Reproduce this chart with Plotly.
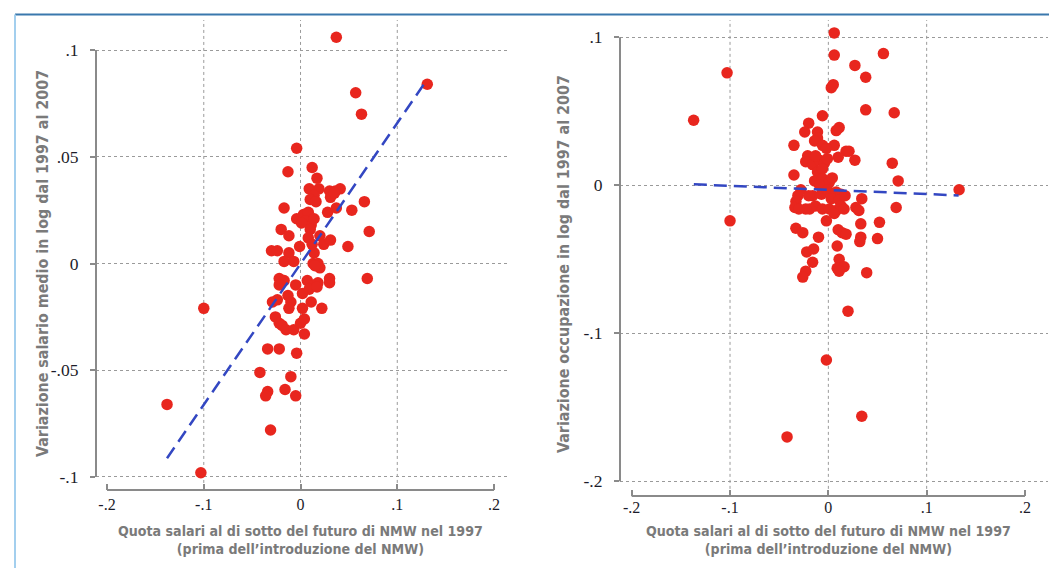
import plotly.graph_objects as go

# ---------------- data: left panel (wages) ----------------
wage_x = [0.037, 0.131, 0.057, 0.063, -0.004, -0.013, 0.012, 0.017,
          0.009, 0.019, 0.030, 0.036, 0.041, 0.014, 0.031, 0.035, 0.010, 0.016, 0.066,
          -0.017, 0.037, 0.053, 0.028,
          -0.004, 0.003, 0.008, 0.005, 0.011, 0.014, 0.001, 0.010, 0.071, -0.020,
          -0.012, 0.008, 0.012, 0.020, 0.024, 0.031, -0.001, 0.049, -0.030, -0.024,
          -0.012, 0.014,
          -0.017, -0.007, 0.013, 0.018, 0.020, 0.015, 0.069, 0.030, 0.030, -0.022,
          -0.017, -0.022, 0.007, 0.014, 0.018, 0.009, 0.017, -0.005, 0.002, -0.013,
          -0.010, -0.012, -0.029, -0.024, 0.011, 0.002, 0.022, -0.100, -0.026, -0.022,
          -0.019, -0.015, -0.007, 0.000, 0.004, 0.004, -0.034, -0.022, -0.004, -0.042,
          -0.010, -0.034, -0.036, -0.016, -0.005, -0.138, -0.031, -0.103]
wage_y = [0.106, 0.084, 0.080, 0.070, 0.054, 0.043, 0.045, 0.040,
          0.035, 0.035, 0.034, 0.034, 0.035, 0.032, 0.031, 0.033, 0.030, 0.029, 0.029,
          0.026, 0.026, 0.025, 0.024,
          0.021, 0.023, 0.024, 0.020, 0.018, 0.021, 0.019, 0.016, 0.015, 0.016,
          0.013, 0.012, 0.009, 0.013, 0.009, 0.011, 0.008, 0.008, 0.006, 0.006,
          0.005, 0.005,
          0.001, 0.001, 0.000, -0.000, -0.002, -0.001, -0.007, -0.007, -0.009, -0.007,
          -0.008, -0.010, -0.008, -0.010, -0.009, -0.012, -0.011, -0.010, -0.014, -0.015,
          -0.018, -0.021, -0.018, -0.017, -0.018, -0.021, -0.021, -0.021, -0.025, -0.028,
          -0.029, -0.031, -0.031, -0.028, -0.026, -0.033, -0.040, -0.040, -0.042, -0.051,
          -0.053, -0.060, -0.062, -0.059, -0.062, -0.066, -0.078, -0.098]
wage_fit_x = [-0.138, 0.1295]
wage_fit_y = [-0.0912, 0.0853]

# ---------------- data: right panel (employment) ----------------
emp_x = [0.006, 0.006, 0.056, 0.027, -0.103, 0.038, 0.003, 0.005, 0.038, 0.067,
         -0.137, -0.006, -0.020, -0.024, -0.011, -0.011, -0.014, 0.011, 0.008, -0.035,
         -0.006, 0.006, -0.002, 0.018, 0.021, -0.021, 0.010, 0.027, 0.065, -0.023,
         -0.016, -0.009, -0.004, -0.011, -0.006, -0.001, -0.013, -0.035, 0.071, -0.014,
         -0.006, 0.001, -0.009, 0.133, -0.028, -0.031, -0.033, -0.034, -0.016, -0.007,
         -0.001, 0.008, 0.013, 0.003, 0.011, -0.013, -0.019, -0.023, -0.006, 0.001,
         0.008, 0.013, 0.006, 0.034, 0.028, 0.031, 0.069, -0.100, -0.002, 0.033,
         0.052, -0.033, -0.026, 0.010, 0.014, 0.018, -0.010, 0.033, 0.032, 0.050,
         0.009, -0.022, -0.015, -0.016, 0.011, 0.009, 0.016, 0.011, 0.039, -0.023,
         -0.026, 0.020, -0.002, 0.034, -0.042, -0.030, 0.017, 0.016, -0.020, 0.004]
emp_y = [0.103, 0.088, 0.089, 0.081, 0.076, 0.073, 0.066, 0.068, 0.051, 0.049,
         0.044, 0.047, 0.042, 0.036, 0.036, 0.032, 0.030, 0.039, 0.037, 0.027,
         0.027, 0.027, 0.025, 0.023, 0.023, 0.020, 0.019, 0.017, 0.015, 0.016,
         0.014, 0.017, 0.015, 0.009, 0.011, 0.018, 0.020, 0.007, 0.003, 0.003,
         0.0045, 0.002, 0.000, -0.003, -0.003, -0.007, -0.011, -0.015, -0.007, -0.006,
         -0.003, -0.0045, -0.006, -0.009, -0.010, -0.014, -0.016, -0.016, -0.016, -0.016,
         -0.017, -0.014, -0.019, -0.009, -0.015, -0.017, -0.015, -0.024, -0.024, -0.026,
         -0.025, -0.029, -0.032, -0.030, -0.032, -0.033, -0.035, -0.035, -0.038, -0.036,
         -0.041, -0.045, -0.043, -0.052, -0.050, -0.056, -0.055, -0.058, -0.059, -0.058,
         -0.062, -0.085, -0.118, -0.156, -0.170, -0.016, -0.007, -0.016, -0.007, 0.005]
emp_fit_x = [-0.1368, 0.1325]
emp_fit_y = [0.0007, -0.0068]

# ---------------- tick labels ----------------
x_ticks = [-0.2, -0.1, 0, 0.1, 0.2]
x_ticktext = ["-.2", "-.1", "0", ".1", ".2"]
x_grid = [-0.1, 0, 0.1]
wage_yticks = [-0.1, -0.05, 0, 0.05, 0.1]
wage_yticktext = ["-.1", "-.05", "0", ".05", ".1"]
emp_yticks = [-0.2, -0.1, 0, 0.1]
emp_yticktext = ["-.2", "-.1", "0", ".1"]

x_title = "Quota salari al di sotto del futuro di NMW nel 1997<br>(prima dell\u2019introduzione del NMW)"
wage_ytitle = "Variazione salario medio in log dal 1997 al 2007"
emp_ytitle = "Variazione occupazione in log dal 1997 al 2007"

# ---------------- styles ----------------
W, H = 1057, 568
RED = "#e8261e"
BLUE = "#3347c2"
AXIS = "#8a8a8a"
GRID = "#9a9a9a"
TICKFONT = dict(family="Liberation Serif", size=17.5, color="#1c1c2a")
XTICKFONT = dict(family="Liberation Serif", size=16, color="#1c1c2a")
XTITLEFONT = dict(family="DejaVu Sans Condensed, Liberation Sans", size=14.1, color="#7a7a7a", weight="bold")
YTITLEFONT = dict(family="DejaVu Sans Condensed, Liberation Sans", size=15.9, color="#7a7a7a", weight="bold")

fig = go.Figure()
fig.add_trace(go.Scatter(x=wage_x, y=wage_y, mode="markers", xaxis="x", yaxis="y",
                         marker=dict(color=RED, size=11.5, line=dict(width=0)), showlegend=False))
fig.add_trace(go.Scatter(x=wage_fit_x, y=wage_fit_y, mode="lines", xaxis="x", yaxis="y",
                         line=dict(color=BLUE, width=2.5, dash="13px,7px"), showlegend=False))
fig.add_trace(go.Scatter(x=emp_x, y=emp_y, mode="markers", xaxis="x2", yaxis="y2",
                         marker=dict(color=RED, size=11.5, line=dict(width=0)), showlegend=False))
fig.add_trace(go.Scatter(x=emp_fit_x, y=emp_fit_y, mode="lines", xaxis="x2", yaxis="y2",
                         line=dict(color=BLUE, width=2.5, dash="13px,7px"), showlegend=False))

def xaxis_cfg(domain, rng, standoff):
    return dict(domain=domain, range=rng, tickmode="array", tickvals=x_ticks, ticktext=x_ticktext,
                ticks="inside", ticklen=6, tickwidth=1.5, tickcolor=AXIS, showgrid=False,
                zeroline=False, showline=False, tickfont=XTICKFONT, ticklabelstandoff=standoff,
                fixedrange=True)

def yaxis_cfg(domain, rng, tv, tt):
    return dict(domain=domain, range=rng, tickmode="array", tickvals=tv, ticktext=tt,
                ticks="outside", ticklen=5, tickwidth=1.5, tickcolor=AXIS, showgrid=True,
                gridcolor=GRID, griddash="dot", gridwidth=1, zeroline=False, showline=False,
                tickfont=TICKFONT, ticklabelstandoff=8, fixedrange=True)

fig.update_layout(
    width=W, height=H, margin=dict(l=0, r=0, t=0, b=0),
    paper_bgcolor="white", plot_bgcolor="white",
    xaxis=xaxis_cfg([88 / W, 502 / W], [-0.2114, 0.2165], 3),
    yaxis=yaxis_cfg([1 - 482 / H, 1 - 12 / H], [-0.1061, 0.1141], wage_yticks, wage_yticktext),
    xaxis2=xaxis_cfg([612 / W, 1040 / W], [-0.2119, 0.2234], 0),
    yaxis2=yaxis_cfg([1 - 488 / H, 1 - 12 / H], [-0.2099, 0.1117], emp_yticks, emp_yticktext),
)
fig.layout.xaxis2.anchor = "y2"
fig.layout.yaxis2.anchor = "x2"

shapes = []
for xa, ya, yt in (("x", "y", wage_yticks), ("x2", "y2", emp_yticks)):
    for g in x_grid:
        shapes.append(dict(type="line", xref=xa, yref=ya + " domain", x0=g, x1=g, y0=0.015, y1=1,
                           line=dict(color=GRID, width=1, dash="dot"), layer="below"))
    shapes.append(dict(type="line", xref=xa + " domain", yref=ya, x0=0, x1=0, y0=min(yt), y1=max(yt),
                       line=dict(color=AXIS, width=2)))
    shapes.append(dict(type="line", xref=xa, yref=ya + " domain", x0=min(x_ticks), x1=max(x_ticks),
                       y0=0, y1=0, line=dict(color=AXIS, width=2)))
shapes.append(dict(type="line", xref="paper", yref="paper", x0=7 / W, x1=1, y0=1 - 6.5 / H, y1=1 - 6.5 / H,
                   line=dict(color="#3a78ad", width=2)))
shapes.append(dict(type="line", xref="paper", yref="paper", x0=7 / W, x1=7 / W, y0=0, y1=1 - 6.5 / H,
                   line=dict(color="#a3cfee", width=2)))
fig.update_layout(shapes=shapes)

ann = []
for xa in ("x", "x2"):
    ann.append(dict(text=x_title, xref=xa, x=0, yref="paper", y=1 - 532 / H, showarrow=False,
                    xanchor="center", yanchor="middle", font=XTITLEFONT, align="center"))
ann.append(dict(text=wage_ytitle, xref="paper", x=34 / W, yref="paper", y=1 - 256 / H, textangle=-90,
                showarrow=False, xanchor="center", yanchor="middle", font=YTITLEFONT))
ann.append(dict(text=emp_ytitle, xref="paper", x=555 / W, yref="paper", y=1 - 256 / H, textangle=-90,
                showarrow=False, xanchor="center", yanchor="middle", font=YTITLEFONT))
fig.update_layout(annotations=ann)

fig.write_html("out.html")
